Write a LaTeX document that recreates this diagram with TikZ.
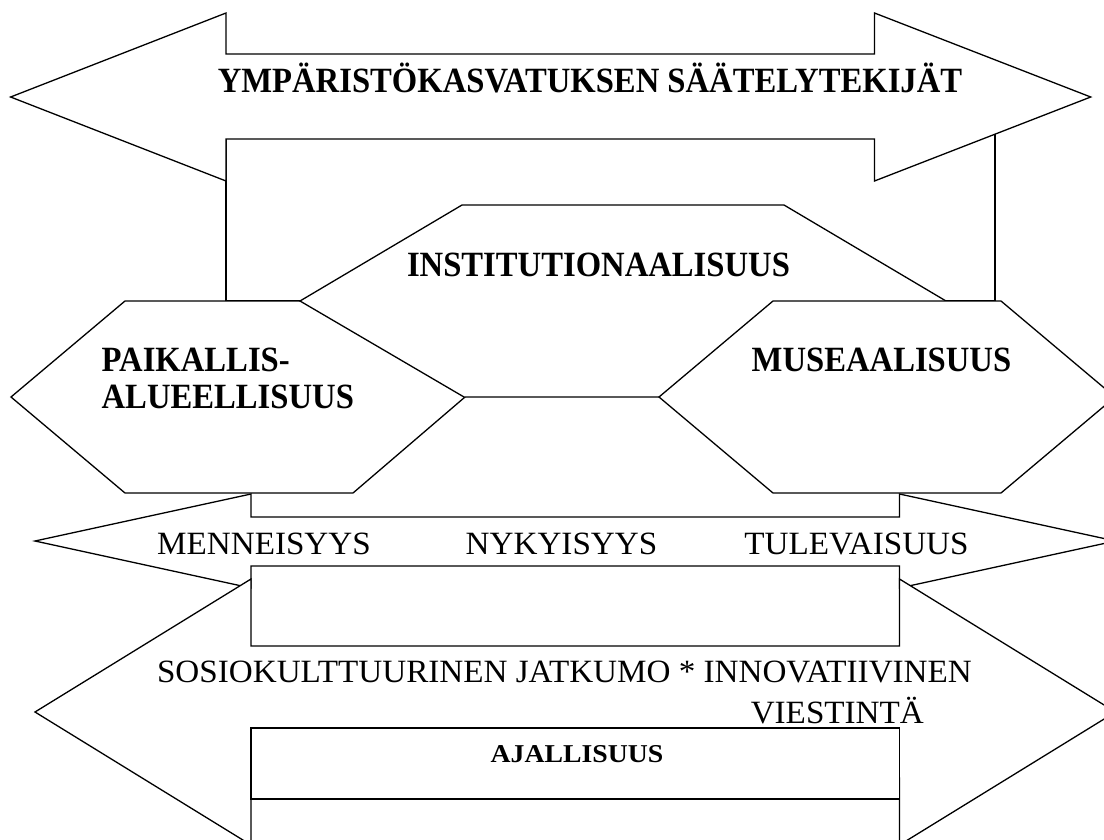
\documentclass[tikz,border=0pt]{standalone}
\usepackage{fontspec}
\setmainfont{Liberation Serif}
\newfontfamily\narrowserif[FakeStretch=0.92]{Liberation Serif}
\newfontfamily\regserif[FakeStretch=1.02]{Liberation Serif}
\newfontfamily\wideserif[FakeStretch=1.08]{Liberation Serif}
\begin{document}
\begin{tikzpicture}[x=1pt,y=-1pt,line width=1.3pt,line join=miter,
  shapebox/.style={draw=black,fill=white},
  boldlbl/.style={font=\narrowserif\fontsize{35.5}{40}\selectfont\bfseries,inner sep=0pt},
  smallbold/.style={font=\wideserif\fontsize{25.7}{30}\selectfont\bfseries,inner sep=0pt},
  reglbl/.style={font=\regserif\fontsize{32.5}{37}\selectfont,inner sep=0pt}]
\useasboundingbox (0,0) rectangle (1104,839);
\clip (0,0) rectangle (1104,839);
% frame behind the top arrow
\draw[shapebox] (226,120) rectangle (995,301);
% top double arrow
\draw[shapebox] (10.6,97) -- (226,13) -- (226,54) -- (874.5,54) -- (874.5,13)
  -- (1090.7,97) -- (874.5,181) -- (874.5,139) -- (226,139) -- (226,181) -- cycle;
\node[boldlbl,anchor=base] (title) at (590,92) {YMPÄRISTÖKASVATUKSEN SÄÄTELYTEKIJÄT};
% hexagons
\draw[shapebox] (11,397) -- (125,301) -- (353,301) -- (465,397) -- (353,493) -- (125,493) -- cycle;
\draw[shapebox] (300,301) -- (462,205) -- (784,205) -- (946,301) -- (784,397) -- (464,397) -- cycle;
\draw[shapebox] (659,397) -- (773,301) -- (1001,301) -- (1115,397) -- (1001,493) -- (773,493) -- cycle;
\node[boldlbl,anchor=base] (inst) at (598.5,276) {INSTITUTIONAALISUUS};
\node[boldlbl,anchor=base west] (paik1) at (101,371) {PAIKALLIS-};
\node[boldlbl,anchor=base west] (paik2) at (101,408) {ALUEELLISUUS};
\node[boldlbl,anchor=base] (muse) at (881.5,371) {MUSEAALISUUS};
% time arrow
\draw[shapebox] (35,541) -- (251,494) -- (251,517) -- (899.5,517) -- (899.5,494)
  -- (1115.5,541) -- (899.5,588) -- (899.5,566) -- (251,566) -- (251,588) -- cycle;
\node[reglbl,anchor=base] (menn) at (264,554) {MENNEISYYS};
\node[reglbl,anchor=base] (nyky) at (561.5,554) {NYKYISYYS};
\node[reglbl,anchor=base] (tule) at (856.5,554) {TULEVAISUUS};
% big lower double arrow
\draw[shapebox] (35,712) -- (251,579) -- (251,646) -- (899.5,646) -- (899.5,579)
  -- (1115.5,712) -- (899.5,845) -- (899.5,778) -- (251,778) -- (251,845) -- cycle;
\node[reglbl,anchor=base] (sosio) at (564.5,682) {SOSIOKULTTUURINEN JATKUMO * INNOVATIIVINEN};
\node[reglbl,anchor=base east] (viest) at (924.5,723) {VIESTINTÄ};
% AJALLISUUS box
\draw[shapebox] (251,728) rectangle (899.5,799);
\node[smallbold,anchor=base] (ajal) at (577,762) {AJALLISUUS};
\end{tikzpicture}
\end{document}
